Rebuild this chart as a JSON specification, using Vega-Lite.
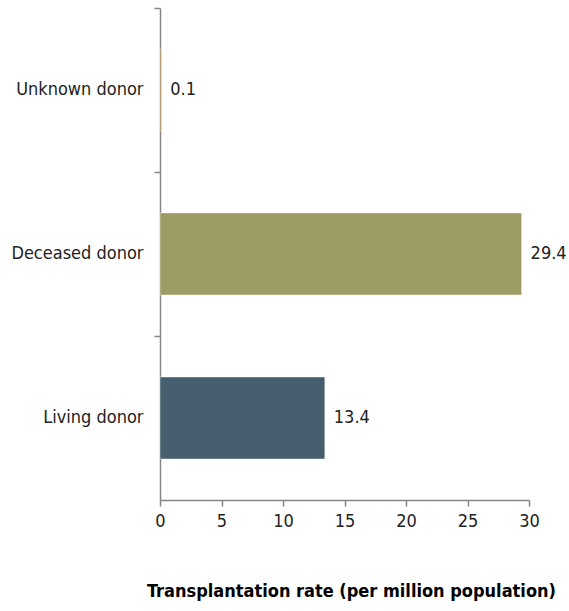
{
  "$schema": "https://vega.github.io/schema/vega-lite/v6.json",
  "width": 369,
  "height": 492,
  "autosize": "none",
  "padding": {"left": 160, "top": 8, "right": 40, "bottom": 111},
  "config": {"view": {"stroke": null}, "font": "DejaVu Sans Condensed"},
  "data": {
    "values": [
      {"type": "Unknown donor", "rate": 0.1, "label": "0.1"},
      {"type": "Deceased donor", "rate": 29.4, "label": "29.4"},
      {"type": "Living donor", "rate": 13.4, "label": "13.4"}
    ]
  },
  "encoding": {
    "y": {
      "field": "type",
      "type": "nominal",
      "sort": ["Unknown donor", "Deceased donor", "Living donor"],
      "scale": {"paddingInner": 0.5, "paddingOuter": 0.25},
      "axis": {
        "title": null,
        "bandPosition": -0.5,
        "domainColor": "#868686",
        "domainWidth": 1.5,
        "tickColor": "#868686",
        "tickWidth": 1.5,
        "tickSize": 6,
        "labelFont": "DejaVu Sans Condensed",
        "labelFontSize": 18,
        "labelColor": "#222222",
        "labelPadding": 11
      }
    },
    "x": {
      "field": "rate",
      "type": "quantitative",
      "scale": {"domain": [0, 30], "nice": false},
      "axis": {
        "title": "Transplantation rate (per million population)",
        "values": [0, 5, 10, 15, 20, 25, 30],
        "grid": false,
        "labelFlush": false,
        "domainColor": "#868686",
        "domainWidth": 1.5,
        "tickColor": "#868686",
        "tickWidth": 1.5,
        "tickSize": 6,
        "labelFont": "DejaVu Sans Condensed",
        "labelFontSize": 18,
        "labelColor": "#222222",
        "labelPadding": 6,
        "titleFont": "DejaVu Sans Condensed",
        "titleFontSize": 18,
        "titleFontWeight": "bold",
        "titleColor": "#000000",
        "titlePadding": 52,
        "titleX": 191
      }
    }
  },
  "layer": [
    {
      "mark": {"type": "bar", "stroke": "#ffffff", "strokeOpacity": 0.4, "strokeWidth": 1},
      "encoding": {
        "color": {
          "field": "type",
          "type": "nominal",
          "scale": {
            "domain": ["Unknown donor", "Deceased donor", "Living donor"],
            "range": ["#9b7a3e", "#9c9c64", "#475e6e"]
          },
          "legend": null
        }
      }
    },
    {
      "mark": {"type": "text", "align": "left", "baseline": "middle", "dx": 9, "fontSize": 18, "font": "DejaVu Sans Condensed", "color": "#222222"},
      "encoding": {"text": {"field": "label"}}
    }
  ]
}
